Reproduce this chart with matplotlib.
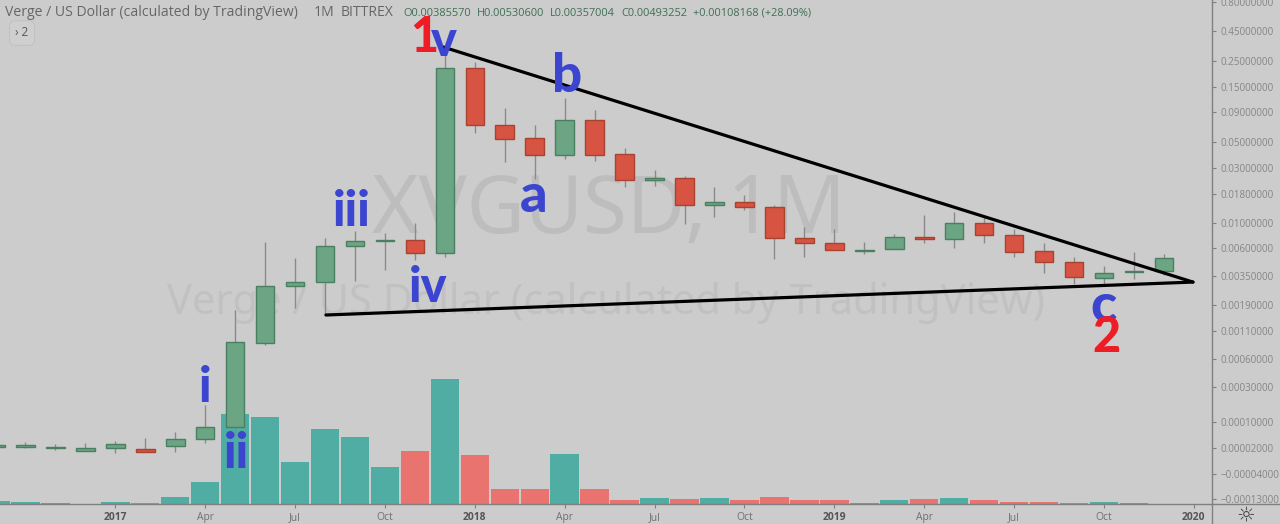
import numpy as np
import matplotlib
matplotlib.use("Agg")
import matplotlib.pyplot as plt

W, H = 1280, 524
BG = "#cccccc"

# monthly candles, Sep 2016 to Dec 2019 (month 0 = Jan 2017)
months = np.arange(-4, 36)
opens = [.0000240, .0000240, .0000200, .0000138, .0000200, .0000184, .0000254, .0000449, .0000822, .000848,
         .00285, .00308, .00625, .00688, .00707, .00548, .219, .0693, .0544, .0387,
         .0774, .0395, .02355, .0245, .0145, .0152, .0139, .00731, .00666, .00570,
         .00585, .00747, .00727, .0100, .00784, .00570, .00462, .00333, .00378, .0038557]
closes = [.0000268, .0000282, .0000235, .0000208, .0000309, .0000115, .0000449, .0000822, .000867, .00285,
          .00308, .00625, .00697, .00711, .00548, .219, .0693, .0533, .0387, .0774,
          .0387, .0237, .0245, .0145, .0152, .01375, .00736, .00661, .00574, .00581,
          .00747, .00727, .0100, .00784, .00552, .00455, .00341, .00368, .00386, .00493252]
highs = [.0000282, .0000364, .0000309, .0000344, .0000384, .0000470, .0000659, .000177, .00171, .00678,
         .00495, .00736, .00849, .00815, .0100, .310, .2466, .0983, .0697, .119,
         .0938, .0445, .0288, .0256, .0208, .0176, .0145, .00916, .00885, .00683,
         .00797, .0117, .0124, .0113, .00885, .00661, .00508, .00426, .00559, .005306]
lows = [.0000240, .0000200, .0000155, .0000138, .0000092, .0000115, .0000115, .0000344, .0000567, .000812,
        .00178, .00154, .00315, .00393, .00477, .00508, .0600, .0340, .0240, .0358,
        .0346, .0205, .0211, .00973, .0112, .0130, .00488, .00508, .00574, .00535,
        .00585, .00668, .0060, .00661, .00508, .00368, .00296, .00291, .00326, .00357004]
# volume, no scale on the chart so only relative heights are known
volume = [3.5, 2.5, 1.5, 0, 2.5, 1.5, 7, 22, 90, 87,
          42, 75, 67, 37, 53, 125, 49, 15, 15, 50,
          15, 4.5, 6.5, 5.5, 6.5, 4.5, 7.5, 4.5, 4.5, 1.5,
          4.5, 5.5, 6.5, 4.5, 2.5, 2.5, 1.5, 2.5, 1.5, 0]

# price axis ticks and where they sit (TradingView log scale is not a plain log)
price_ticks = [-.00013, -.00004, .00002, .0001, .0003, .0006, .0011, .0019, .0035, .006,
               .01, .018, .03, .05, .09, .15, .25, .45, .8]
price_labels = ["\u22120.00013000", "\u22120.00004000", "0.00002000", "0.00010000", "0.00030000",
                "0.00060000", "0.00110000", "0.00190000", "0.00350000", "0.00600000", "0.01000000",
                "0.01800000", "0.03000000", "0.05000000", "0.09000000", "0.15000000", "0.25000000",
                "0.45000000", "0.80000000"]
scale_prices = [-.000162] + price_ticks + [.83]
scale_rows = [504, 499, 474, 448, 422, 387, 359, 331, 305, 276, 248, 223, 194, 168, 142, 112, 87, 61, 31, 2, 0]

date_ticks = [-4, 0, 3, 6, 9, 12, 15, 18, 21, 24, 27, 30, 33, 36]
date_labels = ["Sep", "2017", "Apr", "Jul", "Oct", "2018", "Apr", "Jul", "Oct", "2019", "Apr", "Jul", "Oct", "2020"]

# trend lines (month, price)
upper_x, upper_y = [10.94, 35.97], [.329, .00308]
lower_x, lower_y = [7.03, 35.97], [.00154, .00308]

s_prices = np.arcsinh(np.array(scale_prices) / 1e-4)
s_rows = -np.array(scale_rows, dtype=float)


def to_row(p):
    return np.interp(np.arcsinh(np.asarray(p) / 1e-4), s_prices, s_rows)


def from_row(r):
    return np.sinh(np.interp(r, s_rows, s_prices)) * 1e-4


fig = plt.figure(figsize=(W / 100, H / 100), dpi=100, facecolor=BG)
rect = [0, 20 / H, 1212 / W, 504 / H]
xlim = ((0 - 115.3) / 29.96, (1212 - 115.3) / 29.96)

# watermark
fig.text(609 / W, 1 - 212 / H, "XVGUSD, 1M", fontsize=57.5, color="#bdbdbd", family="Noto Sans",
         ha="center", va="center", zorder=-1)
fig.text(606 / W, 1 - 303 / H, "Verge / US Dollar (calculated by TradingView)", fontsize=30, color="#c1c1c1",
         family="Noto Sans", ha="center", va="center", zorder=-1)

# volume
ax_vol = fig.add_axes(rect, zorder=1)
ax_vol.patch.set_visible(False)
vol_colors = ["#4fada4" if c >= o else "#e8736f" for o, c in zip(opens, closes)]
ax_vol.bar(months, volume, width=0.95, color=vol_colors)
ax_vol.set_xlim(xlim)
ax_vol.set_ylim(0, 504)
ax_vol.axis("off")

# candles
ax = fig.add_axes(rect, zorder=2)
ax.patch.set_visible(False)
ax.set_yscale("function", functions=(to_row, from_row))
up = np.array(closes) >= np.array(opens)
ax.vlines(months, lows, highs, color="#8a8a8a", lw=1.0, zorder=2)
body_lo = np.minimum(opens, closes)
body_hi = np.maximum(opens, closes)
ax.bar(months, body_hi - body_lo, bottom=body_lo, width=0.62,
       color=["#6ba583" if u else "#d75442" for u in up],
       edgecolor=["#4a7f62" if u else "#a8432f" for u in up], linewidth=1.0, zorder=3)

ax.plot(upper_x, upper_y, color="black", lw=2.3, zorder=4, solid_capstyle="round")
ax.plot(lower_x, lower_y, color="black", lw=2.3, zorder=4, solid_capstyle="round")

ax.yaxis.tick_right()
ax.minorticks_off()
ax.set_yticks(price_ticks)
ax.set_yticklabels(price_labels)
ax.set_xticks(date_ticks)
ax.set_xticklabels(date_labels)
# limits last, set_xticks widens them to take in the Sep tick
ax.set_xlim(xlim)
ax.set_ylim(scale_prices[0], scale_prices[-1])
ax.tick_params(axis="y", length=3, width=0.8, color="#808080", labelcolor="#858585", labelsize=7, pad=3)
ax.tick_params(axis="x", length=3, width=0.8, color="#808080", labelcolor="#6f6f6f", labelsize=7.4, pad=3)
for lab in ax.get_xticklabels():
    lab.set_family("Open Sans")
    if lab.get_text().isdigit():
        lab.set_fontweight("bold")
        lab.set_color("#555555")
for lab in ax.get_yticklabels():
    lab.set_family("Open Sans")
for side in ["top", "left"]:
    ax.spines[side].set_visible(False)
for side in ["right", "bottom"]:
    ax.spines[side].set_color("#808080")
    ax.spines[side].set_linewidth(1.0)

# axis lines run on into the corner box
fig.add_artist(plt.Line2D([1212 / W, 1], [20 / H, 20 / H], color="#808080", lw=1.0))
fig.add_artist(plt.Line2D([1212 / W, 1212 / W], [0, 20 / H], color="#808080", lw=1.0))
fig.text(1246 / W, 1 - 515 / H, "\u263c", fontsize=15, color="#444444", family="DejaVu Sans", ha="center", va="center")

# header
head = [(5, "Verge / US Dollar (calculated by TradingView)", "#666666", 10.1),
        (314, "1M", "#666666", 10.1), (341, "BITTREX", "#666666", 10.1),
        (403, "O0.00385570", "#3f6f56", 7.9), (477, "H0.00530600", "#3f6f56", 7.9),
        (550, "L0.00357004", "#3f6f56", 7.9), (621, "C0.00493252", "#3f6f56", 7.9),
        (693, "+0.00108168 (+28.09%)", "#3f6f56", 7.9)]
for hx, txt, col, fs in head:
    fig.text(hx / W, 1 - 13 / H, txt, color=col, fontsize=fs, family="Open Sans", ha="left", va="center", zorder=6)
fig.text(22 / W, 1 - 33 / H, "\u203a 2", color="#555555", fontsize=8.5, family="Open Sans", ha="center", va="center",
         zorder=6, bbox=dict(boxstyle="round,pad=0.5", fc="#cfcfcf", ec="#c2c2c2", lw=0.8))

# wave labels drawn on the chart
blue = "#3b45cf"
red = "#ee1c25"
marks = [("1", 424, 37, red, 35), ("v", 444, 41, blue, 35), ("b", 567, 77, blue, 38), ("a", 534, 197, blue, 39),
         ("iii", 352, 212, blue, 35), ("iv", 428, 288, blue, 35), ("i", 205, 388, blue, 35), ("ii", 236, 453, blue, 35),
         ("c", 1103, 306, blue, 39), ("2", 1107, 338, red, 35)]
for t, mx, my, col, fs in marks:
    fig.text(mx / W, 1 - my / H, t, color=col, fontsize=fs, fontweight=900, family="Lato",
             ha="center", va="center", zorder=7)

fig.savefig("out.png", dpi=100, facecolor=BG)
